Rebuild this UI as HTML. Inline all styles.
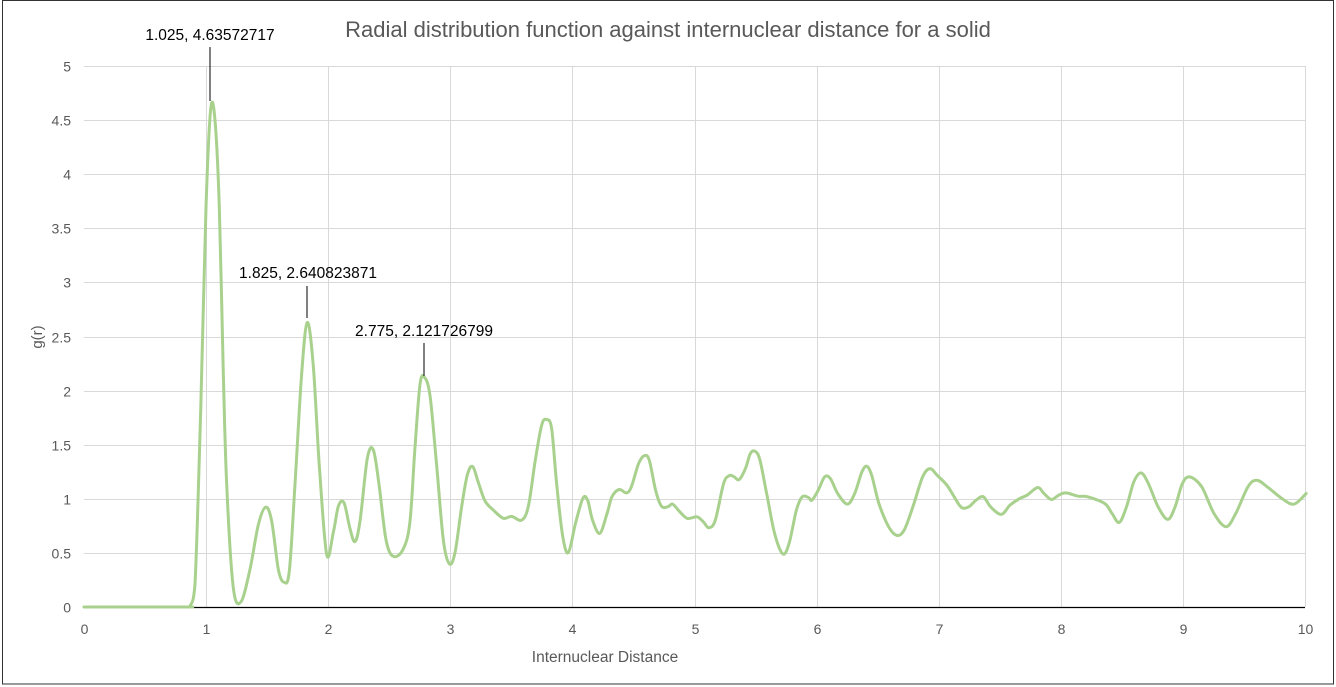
<!DOCTYPE html>
<html><head><meta charset="utf-8"><style>
html,body{margin:0;padding:0;background:#fff;}
svg{display:block;font-family:"Liberation Sans",sans-serif;}
</style></head><body>
<svg id="s" width="1336" height="687" xmlns="http://www.w3.org/2000/svg">
<rect x="2.5" y="0.5" width="1331" height="683.5" fill="#fff" stroke="#333" stroke-width="1"/>
<g id="grid" stroke="#d9d9d9" stroke-width="1"></g>
<line x1="84" y1="607.5" x2="1305" y2="607.5" stroke="#000" stroke-width="1.3"/>
<g id="lbl" fill="#595959" font-size="14"></g>
<path id="curve" fill="none" stroke="#a9d18e" stroke-width="3" stroke-linejoin="round" stroke-linecap="round"/>
<text x="668" y="37" text-anchor="middle" font-size="22" fill="#595959">Radial distribution function against internuclear distance for a solid</text>
<text x="605" y="662" text-anchor="middle" font-size="15.5" fill="#595959">Internuclear Distance</text>
<text transform="translate(42,337) rotate(-90)" text-anchor="middle" font-size="15" fill="#595959">g(r)</text>
<g fill="#000" font-size="15.5">
<text x="210" y="40" text-anchor="middle">1.025, 4.63572717</text>
<text x="308" y="278" text-anchor="middle">1.825, 2.640823871</text>
<text x="424" y="336" text-anchor="middle">2.775, 2.121726799</text>
</g>
<g stroke="#000" stroke-width="1">
<line x1="210" y1="47" x2="210" y2="101"/>
<line x1="307" y1="286" x2="307" y2="318"/>
<line x1="424" y1="343" x2="424" y2="376"/>
</g>
</svg>
<script>
(function(){
var g=document.getElementById('grid'),l=document.getElementById('lbl'),ns='http://www.w3.org/2000/svg';
function el(p,t,a,txt){var e=document.createElementNS(ns,t);for(var k in a)e.setAttribute(k,a[k]);if(txt!=null)e.textContent=txt;p.appendChild(e);}
for(var i=0;i<=10;i++){var x=84+i*122.1;x=Math.round(x)+0.5;if(i>0)el(g,'line',{x1:x,y1:66,x2:x,y2:607});el(l,'text',{x:x,y:634,'text-anchor':'middle'},String(i));}
for(var j=0;j<=10;j++){var v=j*0.5,y=607-v*108.2;y=Math.round(y)+0.5;if(j>0)el(g,'line',{x1:84,y1:y,x2:1305,y2:y});el(l,'text',{x:71,y:y+5,'text-anchor':'end'},String(v));}
var z1=[[330,1530],[345,1470],[362,1000],[378,450],[392,185],[405,215],[418,450],[430,900],[440,1200],[460,1480],[483,1518],[510,1430],[535,1310],[557,1262],[575,1300],[595,1430],[612,1465],[628,1435],[645,1200],[665,900],[682,762],[700,880],[718,1150],[740,1390],[760,1330],[775,1260],[792,1250],[810,1320],[825,1355],[840,1300],[862,1130],[880,1107],[897,1200],[918,1350],[940,1395],[970,1375],[990,1300],[1005,1100],[1020,930],[1033,910],[1050,960],[1070,1150],[1090,1350],[1108,1415],[1125,1385],[1145,1260],[1162,1175],[1178,1152],[1195,1195],[1215,1245],[1240,1270],[1270,1292],[1295,1287],[1325,1297],[1345,1260],[1365,1140],[1385,1040],[1400,1025],[1415,1050],[1430,1200],[1448,1340],[1465,1385]];
var z2=[[35,430],[50,355],[60,360],[70,420],[85,460],[100,400],[110,350],[125,328],[140,338],[150,320],[165,250],[177,226],[187,240],[200,330],[212,378],[225,380],[235,372],[248,392],[265,415],[285,410],[298,425],[310,443],[323,420],[340,310],[352,286],[362,290],[372,298],[385,265],[395,220],[405,213],[415,240],[430,350],[445,460],[462,522],[475,490],[490,390],[502,350],[515,352],[522,360],[535,330],[548,290],[560,295],[575,340],[595,372],[610,340],[625,275],[635,258],[645,285],[660,370],[680,440],[697,466],[712,450],[730,380],[750,290],[765,265],[780,285],[800,315],[815,350],[830,382],[845,380],[860,360],[875,350],[890,380],[912,403],[930,375],[950,355],[965,345],[987,322],[1000,340],[1015,358],[1030,345],[1045,338],[1070,348],[1090,350],[1125,370],[1140,400],[1155,427],[1170,380],[1185,305],[1200,278],[1215,310],[1235,380],[1255,418],[1270,380],[1285,310],[1300,290],[1325,320],[1350,400],[1375,440],[1395,400],[1420,320],[1438,300],[1460,320],[1490,355],[1515,372],[1540,340]];
var P=[[84,607],[140,607],[189,607]];
z1.forEach(function(p){P.push([80+p[0]/3,66+(p[1]-68)*0.3695]);});
z2.forEach(function(p){P.push([572.1+(p[0]-28)*0.4855,390.6+(p[1]-30)*0.332]);});
function c(v){return Math.min(v,607);}
var d='M'+P[0][0].toFixed(1)+','+P[0][1].toFixed(1);
for(var k=0;k<P.length-1;k++){var p0=P[k-1]||P[k],p1=P[k],p2=P[k+1],p3=P[k+2]||p2;
var c1=[p1[0]+(p2[0]-p0[0])/6,c(p1[1]+(p2[1]-p0[1])/6)],c2=[p2[0]-(p3[0]-p1[0])/6,c(p2[1]-(p3[1]-p1[1])/6)];
d+='C'+c1[0].toFixed(1)+','+c1[1].toFixed(1)+' '+c2[0].toFixed(1)+','+c2[1].toFixed(1)+' '+p2[0].toFixed(1)+','+p2[1].toFixed(1);}
document.getElementById('curve').setAttribute('d',d);
})();
</script>
</body></html>
